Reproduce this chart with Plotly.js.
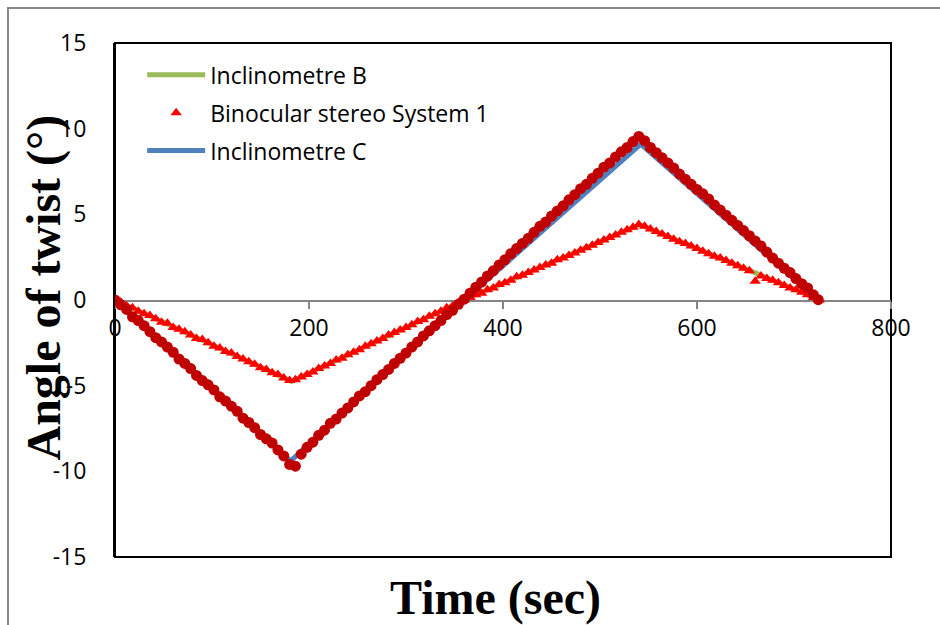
<!DOCTYPE html>
<html>
<head>
<meta charset="utf-8">
<script src="https://cdn.plot.ly/plotly-3.0.1.min.js"></script>
<style>
html,body{margin:0;padding:0;background:#fff;}
#chart{width:940px;height:625px;}
</style>
</head>
<body>
<div id="chart"></div>
<script>
// Inclinometre B (vertices of the triangular loading path)
const incBTime = [0, 182, 360, 541, 727];
const incBAngle = [0, -4.75, 0, 4.4, 0];

// Inclinometre C
const incCTime = [0, 181, 360, 542, 725];
const incCAngle = [0, -9.4, 0, 9.1, 0];

// Binocular stereo System 1 (triangles)
const sys1Time = [0,6,12,18,24,30,36,42,48,54,60,66,72,78,84,90,96,102,108,114,120,126,132,138,144,150,156,162,168,174,180,186,
  192,198,204,210,216,222,228,234,240,246,252,258,264,270,276,282,288,294,300,306,312,318,324,330,336,342,348,354,360,
  366,372,378,384,390,396,402,408,414,420,426,432,438,444,450,456,462,468,474,480,486,492,498,504,510,516,522,528,534,540,546,
  552,558,564,570,576,582,588,594,600,606,612,618,624,630,636,642,648,654,660,666,672,678,684,690,696,702,708,714,720,726];
const sys1Angle = [0,-0.12,-0.35,-0.45,-0.65,-0.8,-0.9,-1.1,-1.3,-1.35,-1.6,-1.7,-1.85,-2.05,-2.25,-2.3,-2.5,-2.7,-2.8,-3.0,-3.1,-3.3,-3.45,-3.6,-3.75,-3.95,-4.05,-4.25,-4.35,-4.55,-4.7,-4.65,
  -4.5,-4.35,-4.2,-4.0,-3.85,-3.7,-3.5,-3.4,-3.2,-3.05,-2.9,-2.7,-2.55,-2.4,-2.25,-2.05,-1.9,-1.75,-1.6,-1.45,-1.25,-1.15,-0.95,-0.8,-0.65,-0.45,-0.35,-0.15,0.0,
  0.15,0.3,0.4,0.6,0.7,0.9,1.0,1.15,1.35,1.45,1.6,1.75,1.9,2.05,2.15,2.35,2.45,2.6,2.75,2.9,3.05,3.2,3.35,3.5,3.65,3.8,3.95,4.1,4.25,4.4,4.3,
  4.15,4.0,3.85,3.7,3.55,3.4,3.3,3.15,3.0,2.85,2.7,2.55,2.45,2.3,2.15,2.0,1.85,1.7,1.1,1.4,1.25,1.15,1.0,0.85,0.7,0.6,0.45,0.3,0.15,0.0];

// Second stereo series (dark red circles, not in legend)
const sys2Time = [0,6,12,18,24,30,36,42,48,54,60,66,72,78,84,90,96,102,108,114,120,126,132,138,144,150,156,162,168,174,180,186,
  192,198,204,210,216,222,228,234,240,246,252,258,264,270,276,282,288,294,300,306,312,318,324,330,336,342,348,354,360,
  366,372,378,384,390,396,402,408,414,420,426,432,438,444,450,456,462,468,474,480,486,492,498,504,510,516,522,528,534,540,546,
  552,558,564,570,576,582,588,594,600,606,612,618,624,630,636,642,648,654,660,666,672,678,684,690,696,702,708,714,720,725];
const sys2Angle = [0,-0.28,-0.55,-0.98,-1.2,-1.5,-1.85,-2.2,-2.45,-2.75,-3.05,-3.45,-3.7,-4.0,-4.4,-4.7,-4.95,-5.25,-5.65,-5.9,-6.2,-6.5,-6.9,-7.15,-7.45,-7.85,-8.1,-8.35,-8.75,-9.1,-9.6,-9.7,
  -9.0,-8.6,-8.3,-7.9,-7.6,-7.2,-6.95,-6.6,-6.3,-5.95,-5.6,-5.35,-5.0,-4.65,-4.35,-4.05,-3.7,-3.4,-3.1,-2.75,-2.45,-2.1,-1.8,-1.5,-1.2,-0.85,-0.6,-0.25,0.05,
  0.4,0.75,1.05,1.4,1.7,2.05,2.35,2.7,3.0,3.3,3.6,3.95,4.3,4.55,4.9,5.2,5.5,5.85,6.15,6.5,6.75,7.1,7.4,7.75,8.0,8.35,8.65,8.9,9.25,9.55,9.3,
  8.9,8.6,8.3,8.0,7.7,7.35,7.05,6.75,6.45,6.2,5.9,5.55,5.25,4.95,4.65,4.35,4.05,3.75,3.45,3.15,2.8,2.45,2.15,1.85,1.6,1.25,0.95,0.7,0.3,0.02];

const xTicks = [0, 200, 400, 600, 800];
const yTicks = [-15, -10, -5, 0, 5, 10, 15];

const tickFont = {family: '"Open Sans", sans-serif', size: 23, color: '#000'};

const traces = [
  {x: incBTime, y: incBAngle, type: 'scatter', mode: 'lines', name: 'Inclinometre B',
   line: {color: '#9BBB59', width: 5}, legendgroup: 'a'},
  {x: sys1Time, y: sys1Angle, type: 'scatter', mode: 'markers', name: 'Binocular stereo System 1',
   marker: {symbol: 'triangle-up', color: '#FF0000', size: 10}, legendgroup: 'b'},
  {x: incCTime, y: incCAngle, type: 'scatter', mode: 'lines', name: 'Inclinometre C',
   line: {color: '#4F81BD', width: 5}, legendgroup: 'c'},
  {x: sys2Time, y: sys2Angle, type: 'scatter', mode: 'markers', name: 'Binocular stereo System 2',
   marker: {symbol: 'circle', color: '#C00000', size: 11}, showlegend: false}
];

const layout = {
  width: 940, height: 625,
  margin: {l: 115, r: 49, t: 43, b: 68},
  paper_bgcolor: '#fff',
  plot_bgcolor: 'rgba(0,0,0,0)',
  showlegend: true,
  legend: {x: 0.035, y: 0.98, xanchor: 'left', yanchor: 'top', itemwidth: 58,
           font: {family: '"Open Sans", sans-serif', size: 23, color: '#000'},
           bgcolor: 'rgba(0,0,0,0)', traceorder: 'grouped', tracegroupgap: 5},
  xaxis: {range: [0, 800], tickvals: xTicks, ticktext: xTicks.map(String),
          anchor: 'free', position: 0.5, showline: true, linecolor: '#868686', linewidth: 1.5,
          ticks: 'outside', ticklen: 7, tickcolor: '#868686', tickwidth: 1.5,
          showgrid: false, zeroline: false, tickfont: tickFont, layer: 'below traces'},
  yaxis: {range: [-15, 15], tickvals: yTicks, ticktext: yTicks.map(String),
          showline: true, linecolor: '#000', linewidth: 2, ticks: '', ticklabelstandoff: 22,
          showgrid: false, zeroline: false, tickfont: tickFont},
  shapes: [
    {type: 'rect', xref: 'paper', yref: 'paper', x0: 0, x1: 1, y0: 0, y1: 1,
     line: {color: '#000', width: 2}, layer: 'below'},
    {type: 'rect', xref: 'paper', yref: 'paper', x0: -0.1379, x1: 1.5, y0: -0.5, y1: 1.068,
     line: {color: '#888', width: 2}, layer: 'below'}
  ],
  annotations: [
    {text: 'Time (sec)', xref: 'paper', yref: 'paper', x: 0.4897, y: -0.0798,
     xanchor: 'center', yanchor: 'middle', showarrow: false,
     font: {family: '"Liberation Serif", "Times New Roman", serif', size: 48, color: '#000', weight: 'bold'}},
    {text: 'Angle of twist (°)', xref: 'paper', yref: 'paper', x: -0.091, y: 0.525,
     xanchor: 'center', yanchor: 'middle', showarrow: false, textangle: -90,
     font: {family: '"Liberation Serif", "Times New Roman", serif', size: 48, color: '#000', weight: 'bold'}}
  ]
};

Plotly.newPlot('chart', traces, layout, {displayModeBar: false, staticPlot: true});
</script>
</body>
</html>
